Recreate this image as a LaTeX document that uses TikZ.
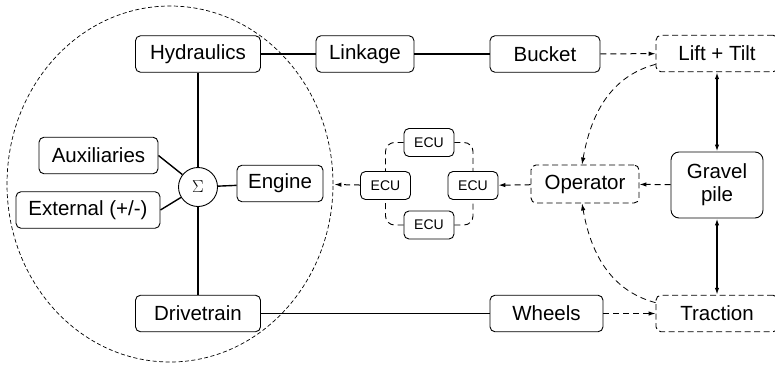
\documentclass[tikz,border=0pt]{standalone}
\usepackage{fontspec}
\setmainfont{Liberation Sans}
\usetikzlibrary{arrows.meta}
\begin{document}
\begin{tikzpicture}[x=1pt,y=-1pt,
  blk/.style={draw, rounded corners=5pt, line width=0.9pt, inner sep=0pt,
    minimum height=36.5pt, font=\fontsize{20.5}{24}\selectfont, align=center},
  dblk/.style={blk, dash pattern=on 6pt off 3.5pt},
  ecu/.style={draw, rounded corners=5pt, line width=0.9pt, inner sep=0pt,
    minimum width=50pt, minimum height=28pt, font=\fontsize{14}{16}\selectfont},
  link/.style={line width=1.4pt},
  dlink/.style={line width=1pt, dash pattern=on 6pt off 4pt,
    -{Latex[length=7pt,width=4.5pt]}},
  loop/.style={line width=0.9pt, dash pattern=on 6pt off 4pt, rounded corners=9pt},
  both/.style={line width=1.4pt, {Latex[length=7pt,width=4.5pt]}-{Latex[length=7pt,width=4.5pt]}}
]
\clip (0,0) rectangle (775,364);

% power-system boundary
\draw[line width=0.7pt, dash pattern=on 4pt off 2.5pt]
  (170,184) ellipse [x radius=163pt, y radius=178pt];

% machine blocks
\node[blk, minimum width=125pt] (hyd) at (198,54) {Hydraulics};
\node[blk, minimum width=98pt] (lnk) at (365,54) {Linkage};
\node[blk, minimum width=110pt] (bkt) at (545,54) {Bucket};
\node[dblk, minimum width=122pt] (lift) at (717,53.5) {Lift + Tilt};

\node[blk, minimum width=119pt] (aux) at (98.5,155.5) {Auxiliaries};
\node[blk, minimum width=144pt] (ext) at (88,210) {External (+/-)};
\node[draw, circle, line width=0.9pt, minimum size=39pt, inner sep=0pt,
  font=\fontsize{19}{20}\selectfont] (sig) at (198,187) {$\Sigma$};
\node[blk, minimum width=86pt] (eng) at (280,183.5) {Engine};

\node[blk, minimum width=125pt] (drv) at (198,313.5) {Drivetrain};
\node[blk, minimum width=113pt] (whl) at (546.5,313.5) {Wheels};
\node[dblk, minimum width=122pt] (trac) at (717,313.5) {Traction};

\node[dblk, minimum width=108pt, minimum height=38pt] (op) at (585,184) {Operator};
\node[blk, minimum width=92pt, minimum height=66pt, rounded corners=8pt,
  font=\fontsize{20.5}{23}\selectfont] (grav) at (717,185) {Gravel\\pile};

% control units
\node[ecu] (ecuT) at (429,142.5) {ECU};
\node[ecu] (ecuL) at (385.5,185.5) {ECU};
\node[ecu] (ecuR) at (473,185.5) {ECU};
\node[ecu] (ecuB) at (429,225) {ECU};

% mechanical links
\draw[link] (hyd) -- (lnk);
\draw[link] (lnk) -- (bkt);
\draw[link] (hyd) -- (sig);
\draw[link] (sig) -- (drv);
\draw[link] (aux.east) -- (sig);
\draw[link] (ext.east) -- (sig);
\draw[link] (sig) -- (eng);
\draw[link] (drv) -- (whl);

% signal flows
\draw[dlink] (bkt) -- (lift);
\draw[dlink] (whl) -- (trac);
\draw[dlink] (grav) -- (op);
\draw[dlink] (op) -- (ecuR);
\draw[dlink, shorten >=11pt] (ecuL) -- (eng);
\draw[dlink, line width=0.8pt] (lift.190) to[out=195, in=80] ([xshift=-3pt]op.north);
\draw[dlink, line width=0.8pt] (trac.170) to[out=165, in=-80] ([xshift=-3pt]op.south);

% gravel interaction
\draw[both] (lift) -- (grav);
\draw[both] (grav) -- (trac);

% control-unit ring
\draw[loop] (ecuT.west) -| (ecuL.north);
\draw[loop] (ecuT.east) -| (ecuR.north);
\draw[loop] (ecuB.west) -| (ecuL.south);
\draw[loop] (ecuB.east) -| (ecuR.south);
\end{tikzpicture}
\end{document}
